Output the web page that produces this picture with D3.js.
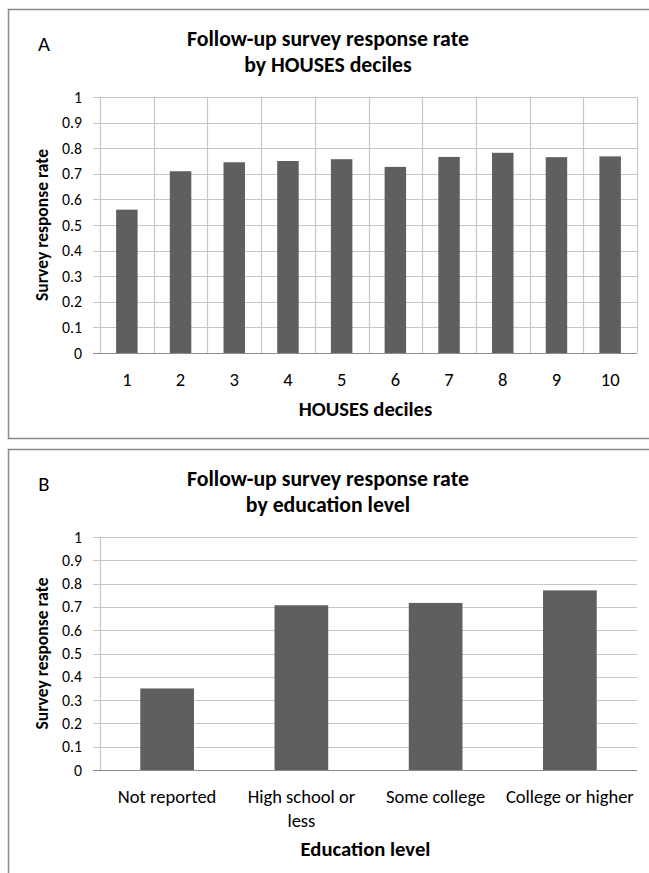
<!DOCTYPE html>
<html>
<head>
<meta charset="utf-8">
<script src="https://cdn.jsdelivr.net/npm/d3@7"></script>
<style>
  html, body { margin: 0; padding: 0; background: #fff; }
  svg { display: block; }
  text { font-family: Carlito, Calibri, "Open Sans", sans-serif; fill: #000; }
</style>
</head>
<body>
<svg id="chart" width="649" height="873"></svg>
<script>
// ---- data ----
const decileCategories = ["1", "2", "3", "4", "5", "6", "7", "8", "9", "10"];
const decileValues = [0.56, 0.71, 0.745, 0.75, 0.757, 0.727, 0.766, 0.782, 0.765, 0.768];
const educationCategories = ["Not reported", "High school or less", "Some college", "College or higher"];
const educationValues = [0.35, 0.707, 0.717, 0.771];
const yTicks = [0, 0.1, 0.2, 0.3, 0.4, 0.5, 0.6, 0.7, 0.8, 0.9, 1];
const panelLetters = ["A", "B"];
const titlesA = ["Follow-up survey response rate", "by HOUSES deciles"];
const titlesB = ["Follow-up survey response rate", "by education level"];
const xTitles = ["HOUSES deciles", "Education level"];
const yTitle = "Survey response rate";

const svg = d3.select("#chart");
const BAR = "#5f5f5f", GRID = "#c6c6c6", AXIS = "#8c8c8c", BORDER = "#8a8a8a";

// find a font size so that `str` renders at `target` px wide
function fitSize(str, weight, target) {
  const t = svg.append("text").style("font-size", "20px").style("font-weight", weight).text(str);
  const w = t.node().getComputedTextLength();
  t.remove();
  return 20 * target / w;
}
const titleSize = fitSize(titlesA[0], "bold", 282);
const tickSize = fitSize("0.9", "normal", 20);
const catSize = fitSize("College or higher", "normal", 128);
const axisTitleSize = fitSize("Education level", "bold", 130);
const yTitleSize = fitSize(yTitle, "bold", 152);

function panel(cfg) {
  const g = svg.append("g");
  g.append("rect")
    .attr("x", 8.5).attr("y", cfg.boxTop + 0.5)
    .attr("width", 660).attr("height", cfg.boxHeight)
    .attr("fill", "none").attr("stroke", BORDER).attr("stroke-width", 1.5);

  g.append("text").attr("x", 44).attr("y", cfg.boxTop + 35)
    .attr("text-anchor", "middle").attr("dominant-baseline", "central")
    .style("font-size", (titleSize * 0.95) + "px").text(cfg.letter);

  cfg.titles.forEach((t, i) => {
    g.append("text").attr("x", 328).attr("y", cfg.boxTop + 29 + i * 26)
      .attr("text-anchor", "middle").attr("dominant-baseline", "central")
      .style("font-size", titleSize + "px").style("font-weight", "bold").text(t);
  });

  const left = 100, right = 637, top = cfg.boxTop + 88, bottom = cfg.plotBottom;
  const x = d3.scaleBand().domain(cfg.categories).range([left, right])
    .paddingInner(0.6).paddingOuter(0.3);
  const y = d3.scaleLinear().domain([0, 1]).range([bottom, top]);

  g.append("g").selectAll("line").data(yTicks.slice(1)).join("line")
    .attr("x1", left - 7).attr("x2", right)
    .attr("y1", d => Math.round(y(d)) + 0.5).attr("y2", d => Math.round(y(d)) + 0.5)
    .attr("stroke", GRID).attr("stroke-width", 1.2);

  if (cfg.vgrid) {
    const step = x.step();
    const bounds = d3.range(cfg.categories.length + 1).map(i => left + i * step);
    g.append("g").selectAll("line").data(bounds.slice(1)).join("line")
      .attr("x1", d => Math.round(d) + 0.5).attr("x2", d => Math.round(d) + 0.5)
      .attr("y1", top).attr("y2", bottom)
      .attr("stroke", GRID).attr("stroke-width", 1.2);
  }

  g.append("line").attr("x1", left + 0.5).attr("x2", left + 0.5)
    .attr("y1", top).attr("y2", bottom).attr("stroke", GRID).attr("stroke-width", 1.2);

  g.append("g").selectAll("rect").data(cfg.values).join("rect")
    .attr("x", (d, i) => x(cfg.categories[i]))
    .attr("width", x.bandwidth())
    .attr("y", d => y(d)).attr("height", d => y(0) - y(d))
    .attr("fill", BAR);

  g.append("line").attr("x1", left - 7).attr("x2", right)
    .attr("y1", Math.round(y(0)) + 0.5).attr("y2", Math.round(y(0)) + 0.5)
    .attr("stroke", AXIS).attr("stroke-width", 1.2);

  g.append("g").selectAll("text").data(yTicks).join("text")
    .attr("x", 82).attr("y", d => y(d))
    .attr("text-anchor", "end").attr("dominant-baseline", "central")
    .style("font-size", tickSize + "px").text(d => d3.format("")(d));

  g.append("g").selectAll("text").data(cfg.categories).join("text")
    .attr("x", d => x(d) + x.bandwidth() / 2).attr("y", bottom + 26)
    .attr("text-anchor", "middle").attr("dominant-baseline", "central")
    .style("font-size", catSize + "px")
    .each(function (d) {
      const lines = cfg.wrap && cfg.wrap[d] ? cfg.wrap[d] : [d];
      d3.select(this).selectAll("tspan").data(lines).join("tspan")
        .attr("x", x(d) + x.bandwidth() / 2)
        .attr("dy", (l, i) => i === 0 ? 0 : 24)
        .text(l => l);
    });

  g.append("text").attr("x", (left + right) / 2 - 3).attr("y", cfg.xTitleY)
    .attr("text-anchor", "middle").attr("dominant-baseline", "central")
    .style("font-size", axisTitleSize + "px").style("font-weight", "bold").text(cfg.xTitle);

  g.append("text")
    .attr("transform", `translate(42,${(top + bottom) / 2}) rotate(-90)`)
    .attr("text-anchor", "middle").attr("dominant-baseline", "central")
    .style("font-size", yTitleSize + "px").style("font-weight", "bold").text(yTitle);
}

panel({
  letter: panelLetters[0], titles: titlesA, boxTop: 9, boxHeight: 429,
  categories: decileCategories, values: decileValues, plotBottom: 353,
  vgrid: true, xTitle: xTitles[0], xTitleY: 409
});
panel({
  letter: panelLetters[1], titles: titlesB, boxTop: 449, boxHeight: 460,
  categories: educationCategories, values: educationValues, plotBottom: 770,
  vgrid: false, xTitle: xTitles[1], xTitleY: 849,
  wrap: { "High school or less": ["High school or", "less"] }
});
</script>
</body>
</html>
